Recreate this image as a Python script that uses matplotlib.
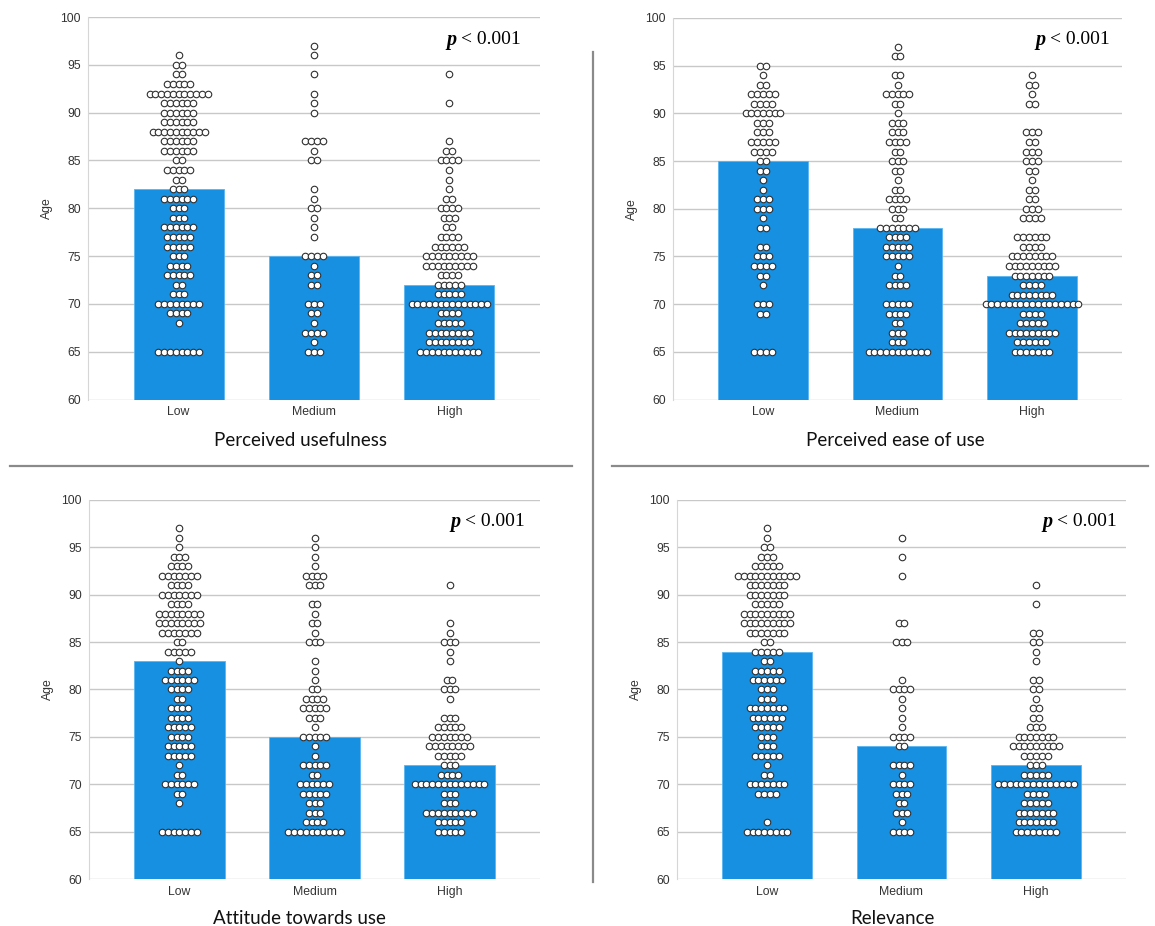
import matplotlib
matplotlib.use("Agg")
import matplotlib.pyplot as plt
from matplotlib.lines import Line2D

# ages 65..97, dot counts per age for each group
AGES = list(range(65, 98))
GROUPS = ["Low", "Medium", "High"]

pu_low = [8, 0, 0, 1, 4, 8, 3, 2, 5, 4, 3, 5, 5, 6, 3, 3, 6, 3, 2, 5, 2, 6, 6, 10, 6, 6, 6, 11, 5, 2, 2, 1, 0]
pu_med = [3, 1, 4, 1, 2, 3, 0, 2, 2, 1, 4, 0, 1, 1, 1, 2, 1, 1, 0, 0, 2, 1, 4, 0, 0, 1, 1, 1, 0, 1, 0, 1, 1]
pu_high = [11, 8, 8, 5, 4, 14, 5, 5, 4, 9, 9, 6, 4, 2, 3, 4, 2, 1, 1, 1, 4, 2, 1, 0, 0, 0, 1, 0, 0, 1, 0, 0, 0]
pu_bars = [82, 75, 72]

peou_low = [4, 0, 0, 0, 2, 3, 0, 1, 2, 4, 3, 2, 0, 2, 1, 3, 3, 1, 1, 2, 2, 4, 5, 3, 3, 7, 4, 5, 2, 1, 2, 0, 0]
peou_med = [11, 3, 3, 2, 4, 5, 0, 4, 2, 1, 5, 5, 4, 7, 2, 3, 4, 2, 1, 2, 3, 2, 4, 3, 3, 1, 2, 5, 1, 2, 0, 2, 1]
peou_high = [7, 6, 9, 5, 4, 17, 8, 4, 7, 9, 8, 4, 6, 0, 4, 3, 2, 2, 1, 2, 3, 3, 2, 3, 0, 0, 2, 1, 2, 1, 0, 0, 0]
peou_bars = [85, 78, 73]

atu_low = [7, 0, 0, 1, 2, 6, 2, 1, 5, 5, 4, 5, 4, 4, 2, 4, 6, 4, 1, 5, 2, 7, 8, 8, 4, 7, 4, 7, 4, 3, 1, 1, 1]
atu_med = [10, 4, 3, 3, 5, 6, 2, 5, 1, 1, 5, 1, 3, 5, 4, 2, 1, 1, 1, 0, 3, 1, 2, 1, 2, 0, 3, 4, 1, 1, 1, 1, 0]
atu_high = [5, 5, 9, 3, 3, 13, 4, 3, 5, 8, 7, 5, 3, 0, 1, 3, 2, 0, 1, 1, 3, 1, 1, 0, 0, 0, 1, 0, 0, 0, 0, 0, 0]
atu_bars = [83, 75, 72]

rel_low = [8, 1, 0, 0, 4, 7, 2, 1, 5, 3, 3, 5, 6, 7, 3, 3, 6, 5, 2, 5, 2, 7, 9, 9, 5, 7, 7, 11, 5, 3, 2, 1, 1]
rel_med = [4, 1, 3, 2, 3, 4, 1, 4, 0, 2, 4, 1, 1, 1, 1, 4, 1, 0, 0, 0, 3, 0, 2, 0, 0, 0, 0, 1, 0, 1, 0, 1, 0]
rel_high = [8, 7, 7, 5, 4, 14, 5, 3, 5, 9, 7, 3, 2, 2, 1, 2, 2, 0, 1, 1, 2, 2, 0, 0, 1, 0, 1, 0, 0, 0, 0, 0, 0]
rel_bars = [84, 74, 72]

W, H = 1155, 926
BLUE = "#1790e2"

fig = plt.figure(figsize=(W / 100, H / 100), dpi=100)
plt.rcParams["font.family"] = ["Liberation Sans", "DejaVu Sans"]


def px_axes(l, r, t, b):
    return fig.add_axes([l / W, 1 - b / H, (r - l) / W, (b - t) / H])


def draw_panel(ax, counts, bars, title, title_xy, p_xy):
    xlim = (-0.67, 2.67)
    ax.set_xlim(*xlim)
    ax.set_ylim(60, 100)
    ax.set_axisbelow(True)
    ax.yaxis.grid(True, color="#c8c8c8", lw=1.0)
    for s in ["top", "right", "bottom"]:
        ax.spines[s].set_visible(False)
    ax.spines["left"].set_color("#d6d6d6")
    ax.tick_params(length=0, labelsize=8.8, labelcolor="#333333", pad=5)
    ax.set_yticks(range(60, 101, 5))
    ax.set_xticks(range(3))
    ax.set_xticklabels(GROUPS)
    ax.set_ylabel("Age", fontsize=8.8, color="#333333")
    ax.yaxis.set_label_coords(-0.078, 0.5)

    ax.bar(range(3), bars, bottom=0, width=0.667, color=BLUE,
           edgecolor="#5ab4f0", lw=0.6, zorder=2)

    # horizontal dot step in data units (dots ~5.8 px apart)
    width_px = ax.get_position().width * W
    step = 5.8 * (xlim[1] - xlim[0]) / width_px
    for gi, cnt in enumerate(counts):
        xs, ys = [], []
        for age, n in zip(AGES, cnt):
            for k in range(n):
                xs.append(gi + (k - (n - 1) / 2) * step)
                ys.append(age)
        ax.scatter(xs, ys, s=22, facecolor="white", edgecolor="#303030",
                   linewidths=0.8, zorder=3, clip_on=False)

    fig.text(title_xy[0] / W, 1 - title_xy[1] / H, title, ha="center",
             va="center", fontsize=13.5, family=["Lato", "DejaVu Sans"],
             color="#111111")
    fig.text(p_xy[0] / W, 1 - p_xy[1] / H, "p", ha="right", va="center",
             fontsize=14.5, family=["Liberation Serif"], style="italic",
             weight="bold")
    fig.text((p_xy[0] + 4) / W, 1 - p_xy[1] / H, "< 0.001", ha="left",
             va="center", fontsize=14, family=["Liberation Serif"])


ax1 = px_axes(88, 540, 17, 399.5)
ax2 = px_axes(673, 1122, 18, 399.5)
ax3 = px_axes(89, 540, 500, 879)
ax4 = px_axes(677, 1126, 500, 879)

draw_panel(ax1, [pu_low, pu_med, pu_high], pu_bars, "Perceived usefulness", (300, 440), (457, 40))
draw_panel(ax2, [peou_low, peou_med, peou_high], peou_bars, "Perceived ease of use", (895, 440), (1046, 40))
draw_panel(ax3, [atu_low, atu_med, atu_high], atu_bars, "Attitude towards use", (299, 918), (461, 522))
draw_panel(ax4, [rel_low, rel_med, rel_high], rel_bars, "Relevance", (892, 918), (1053, 522))

# separator lines
sep = dict(color="#8a8a8a", lw=1.6, transform=fig.transFigure)
fig.add_artist(Line2D([10 / W, 572 / W], [1 - 466 / H, 1 - 466 / H], **sep))
fig.add_artist(Line2D([612 / W, 1148 / W], [1 - 466 / H, 1 - 466 / H], **sep))
fig.add_artist(Line2D([593 / W, 593 / W], [1 - 52 / H, 1 - 882 / H], **sep))

fig.savefig("out.png", dpi=100)
